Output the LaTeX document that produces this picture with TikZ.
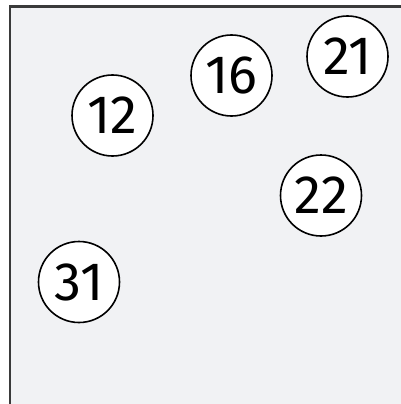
\documentclass[tikz,border=0pt]{standalone}
\usepackage{fontspec}
\setmainfont{Fira Sans}
\usepackage{tikz}
\usetikzlibrary{positioning}
\definecolor{bgGray}{HTML}{F1F2F4}
\definecolor{edgeInk}{HTML}{3A3A3A}

\begin{document}
\begin{tikzpicture}[
      x=1pt, y=-1pt,
      ball/.style={circle, draw=black, line width=1.6pt, fill=white,
                   minimum size=81pt, inner sep=0pt, font=\fontsize{54}{54}\selectfont},
    ]

    % ---------- marco (abierto por abajo y a la derecha) ----------
    \useasboundingbox (0,0) rectangle (401,404);
    \clip (0,0) rectangle (401,404);
    \fill[bgGray] (10,6.5) rectangle (420,420);
    \draw[edgeInk, line width=2.2pt] (10,420) -- (10,6.5) -- (420,6.5);

    % ---------- bolas numeradas ----------
    \node[ball] (b12) at (112.5,115.5) {12};
    \node[ball] (b16) at (231.5,75.5)  {16};
    \node[ball] (b21) at (347.5,56.5)  {21};
    \node[ball] (b22) at (321,195.5)   {22};
    \node[ball] (b31) at (79,282)      {31};

  \end{tikzpicture}
\end{document}
